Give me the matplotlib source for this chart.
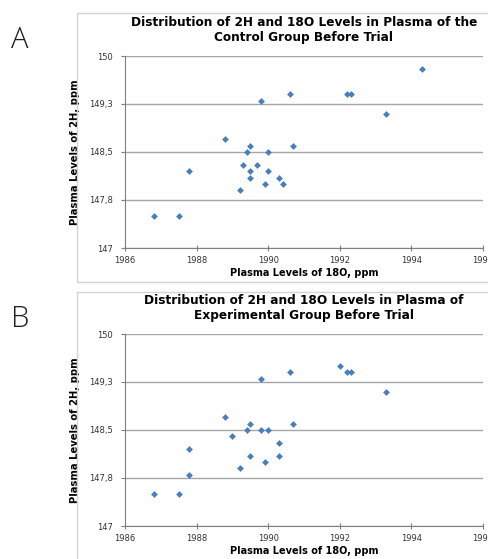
import numpy as np
import matplotlib
matplotlib.use("Agg")
import matplotlib.pyplot as plt
from matplotlib.patches import Rectangle

# Control group (panel A)
ctrl_18o = [1994.3, 1990.6, 1992.2, 1992.3, 1989.8, 1993.3, 1988.8, 1989.5,
            1990.7, 1989.4, 1990.0, 1989.3, 1989.7, 1987.8, 1989.5, 1990.0,
            1989.5, 1990.3, 1989.9, 1990.4, 1989.2, 1986.8, 1987.5]
ctrl_2h = [149.8, 149.4, 149.4, 149.4, 149.3, 149.1, 148.7, 148.6,
           148.6, 148.5, 148.5, 148.3, 148.3, 148.2, 148.2, 148.2,
           148.1, 148.1, 148.0, 148.0, 147.9, 147.5, 147.5]

# Experimental group (panel B)
exp_18o = [1992.0, 1992.2, 1992.3, 1990.6, 1989.8, 1993.3, 1988.8, 1989.5,
           1990.7, 1989.4, 1989.8, 1990.0, 1989.0, 1990.3, 1987.8, 1989.5,
           1990.3, 1989.9, 1989.2, 1987.8, 1986.8, 1987.5]
exp_2h = [149.5, 149.4, 149.4, 149.4, 149.3, 149.1, 148.7, 148.6,
          148.6, 148.5, 148.5, 148.5, 148.4, 148.3, 148.2, 148.1,
          148.1, 148.0, 147.9, 147.8, 147.5, 147.5]

titles = ["Distribution of 2H and 18O Levels in Plasma of the\nControl Group Before Trial",
          "Distribution of 2H and 18O Levels in Plasma of\nExperimental Group Before Trial"]
panel_letters = ["A", "B"]

y_ticks = [147, 147.75, 148.5, 149.25, 150]
y_tick_labels = ["147", "147,8", "148,5", "149,3", "150"]
x_ticks = [1986, 1988, 1990, 1992, 1994, 1996]

W, H = 489, 559
fig = plt.figure(figsize=(W / 100, H / 100), dpi=100)


def fx(px):
    return px / W


def fy(py):
    return 1 - py / H


panels = [
    (ctrl_18o, ctrl_2h, 13, 56, 248),
    (exp_18o, exp_2h, 292, 334, 526),
]

for i, (xs, ys, box_top, ax_top, ax_bot) in enumerate(panels):
    # chart area border
    fig.patches.append(Rectangle((fx(77), fy(box_top + 269)), fx(700 - 77), 269 / H,
                                 transform=fig.transFigure, fill=False,
                                 edgecolor="#d4d4d4", linewidth=1))
    fig.text(fx(11), fy(box_top + 27), panel_letters[i], fontsize=21,
             fontweight="light", va="center", ha="left", color="#222222",
             family=["Open Sans", "DejaVu Sans"])

    ax = fig.add_axes([fx(125), fy(ax_bot), fx(483 - 125), (ax_bot - ax_top) / H])
    ax.scatter(xs, ys, marker="D", s=12, color="#4a7ebb", zorder=3, linewidths=0)
    ax.set_xlim(1986, 1996)
    ax.set_ylim(147, 150)
    ax.set_yticks(y_ticks)
    ax.set_yticklabels(y_tick_labels)
    ax.set_xticks(x_ticks)
    ax.set_xticklabels([str(v) for v in x_ticks])
    ax.grid(axis="y", color="#a6a6a6", linewidth=1)
    ax.set_axisbelow(True)
    for s in ["top", "right"]:
        ax.spines[s].set_visible(False)
    for s in ["left", "bottom"]:
        ax.spines[s].set_color("#7f7f7f")
    ax.tick_params(axis="both", labelsize=6, colors="#7f7f7f", labelcolor="#333333",
                   length=3, width=0.8)
    ax.tick_params(axis="y", pad=6)
    ax.tick_params(axis="x", direction="inout", length=4, pad=4)
    ax.set_xlabel("Plasma Levels of 18O, ppm", fontsize=7, fontweight="bold", labelpad=2)
    ax.set_ylabel("Plasma Levels of 2H, ppm", fontsize=7.2, fontweight="bold", labelpad=6)
    ax.set_title(titles[i], fontsize=8.7, fontweight="bold", linespacing=1.2, pad=11)

fig.savefig("out.png", dpi=100)
